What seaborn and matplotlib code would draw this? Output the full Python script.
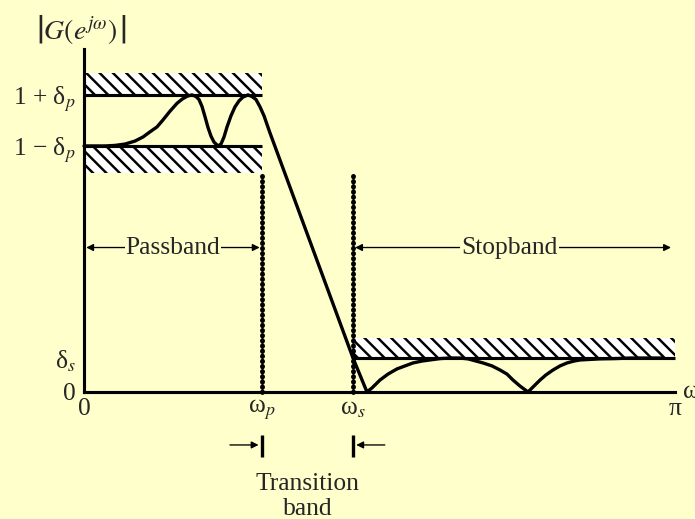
import numpy as np
import pandas as pd
import matplotlib
matplotlib.use("Agg")
import matplotlib.pyplot as plt
import seaborn as sns

# ---- specification values (frequencies in units of pi) ----
wp_frac = 0.301          # passband edge  omega_p / pi
ws_frac = 0.455          # stopband edge  omega_s / pi
delta_p = 0.094          # passband ripple
delta_s = 0.125          # stopband ripple

# magnitude response |G(e^jw)| sampled along the curve
omega_frac = [0.0000, 0.0186, 0.0355, 0.0525, 0.0694, 0.0863, 0.0998, 0.1117,
              0.1235, 0.1337, 0.1455, 0.1574, 0.1658, 0.1743, 0.1827, 0.1895,
              0.1946, 0.1997, 0.2047, 0.2098, 0.2149, 0.2200, 0.2267, 0.2318,
              0.2369, 0.2420, 0.2487, 0.2555, 0.2623, 0.2690, 0.2775, 0.2843,
              0.2910, 0.2978, 0.3046, 0.3147, 0.4552, 0.4788,
              0.4873, 0.5008, 0.5144, 0.5296, 0.5431, 0.5567, 0.5719, 0.5854,
              0.6024, 0.6193, 0.6362, 0.6497, 0.6633, 0.6751, 0.6904, 0.7039,
              0.7157, 0.7259, 0.7377, 0.7513, 0.7614, 0.7716, 0.7817, 0.7936,
              0.8054, 0.8173, 0.8291, 0.8393, 0.8562, 0.8731, 0.8985, 0.9239,
              0.9797]
magnitude = [0.906, 0.906, 0.906, 0.908, 0.913, 0.924, 0.939, 0.958,
             0.976, 1.002, 1.034, 1.063, 1.078, 1.089, 1.094, 1.088,
             1.077, 1.051, 1.014, 0.974, 0.942, 0.920, 0.906, 0.913,
             0.939, 0.976, 1.017, 1.050, 1.072, 1.086, 1.094, 1.088,
             1.077, 1.050, 1.017, 0.954, 0.125, 0.000,
             0.015, 0.044, 0.066, 0.085, 0.096, 0.107, 0.114, 0.118,
             0.123, 0.125, 0.125, 0.122, 0.114, 0.107, 0.096, 0.081,
             0.066, 0.044, 0.022, 0.000, 0.022, 0.044, 0.063, 0.081,
             0.096, 0.107, 0.114, 0.118, 0.120, 0.122, 0.123, 0.125,
             0.125]

y_tick_labels = ["0", "δ$_s$", "1 − δ$_p$", "1 + δ$_p$"]
x_tick_labels = ["0", "ω$_p$", "ω$_s$", "π"]
band_labels = ["Passband", "Stopband", "Transition\nband"]

# hatched tolerance-band thicknesses
hatch_upper = 0.081
hatch_lower = 0.100
hatch_stop = 0.074

BG = "#FFFFCC"
INK = "black"
LW = 3.0

sns.set_theme(style="ticks")
plt.rcParams["font.family"] = ["Liberation Serif", "DejaVu Serif"]
plt.rcParams["mathtext.fontset"] = "stix"
plt.rcParams["hatch.linewidth"] = 2.2
plt.rcParams["hatch.color"] = INK

wp = wp_frac * np.pi
ws = ws_frac * np.pi
PI = np.pi

fig = plt.figure(figsize=(695 / 80, 519 / 80), dpi=80, facecolor=BG)
ax = fig.add_axes([84 / 695, 127 / 519, 591 / 695, 343 / 519])
ax.set_facecolor(BG)
ax.set_xlim(0, PI)
ax.set_ylim(0, 1.263)

for side in ("top", "right"):
    ax.spines[side].set_visible(False)
for side in ("left", "bottom"):
    ax.spines[side].set_linewidth(2.8)
    ax.spines[side].set_color(INK)

# hatched forbidden regions
hatch_kw = dict(facecolor="white", edgecolor=INK, linewidth=0, hatch="\\\\")
ax.fill_between([0, wp], 1 + delta_p, 1 + delta_p + hatch_upper, **hatch_kw)
ax.fill_between([0, wp], 1 - delta_p - hatch_lower, 1 - delta_p, **hatch_kw)
ax.fill_between([ws, PI], delta_s, delta_s + hatch_stop, **hatch_kw)

# tolerance limits
ax.plot([0, wp], [1 + delta_p] * 2, color=INK, lw=2.8, solid_capstyle="butt")
ax.plot([0, wp], [1 - delta_p] * 2, color=INK, lw=2.8, solid_capstyle="butt")
ax.plot([ws, PI], [delta_s] * 2, color=INK, lw=2.8, solid_capstyle="butt")

# band-edge markers
dot_top = 1 - delta_p - hatch_lower
for edge in (wp, ws):
    ax.plot([edge, edge], [0, dot_top], color=INK, lw=4.4,
            ls=(0, (0.1, 0.95)), dash_capstyle="round", clip_on=False)

# magnitude response
curve = pd.DataFrame({"omega": np.array(omega_frac) * PI, "mag": magnitude})
sns.lineplot(data=curve, x="omega", y="mag", sort=False, estimator=None,
             color=INK, lw=LW, ax=ax)
for ln in ax.lines:
    ln.set_clip_on(False)
    ln.set_solid_joinstyle("round")
ax.set_xlabel("")
ax.set_ylabel("")

# ticks and labels
ax.set_xticks([0, wp, ws, PI], x_tick_labels, fontsize=23)
ax.tick_params(axis="x", which="major", length=0, pad=5)
ax.set_xticks([PI], minor=True)
ax.tick_params(axis="x", which="minor", length=12, width=2.8,
               direction="inout", color=INK)

ax.set_yticks([0, delta_s, 1 - delta_p, 1 + delta_p], y_tick_labels, fontsize=23)
ax.tick_params(axis="y", which="major", length=0, pad=7)
ax.set_yticks([delta_s], minor=True)
ax.tick_params(axis="y", which="minor", length=14, width=1.3,
               direction="inout", color=INK)

# band annotations
arrow_y = 0.532
arrow_kw = dict(arrowstyle="<|-|>", color=INK, lw=1.2, shrinkA=2, shrinkB=2,
                mutation_scale=13)
ax.annotate("", xy=(0, arrow_y), xytext=(wp, arrow_y), arrowprops=arrow_kw)
ax.annotate("", xy=(ws, arrow_y), xytext=(PI * 0.997, arrow_y),
            arrowprops=arrow_kw, annotation_clip=False)
box = dict(facecolor=BG, edgecolor="none", pad=1.0)
ax.text(wp / 2, arrow_y, band_labels[0], ha="center", va="center",
        fontsize=23, bbox=box)
ax.text(0.72 * PI, arrow_y, band_labels[1], ha="center", va="center",
        fontsize=23, bbox=box)

# transition band marker below the axis
ty = -0.195
one_kw = dict(arrowstyle="-|>", color=INK, lw=1.2, shrinkA=0, shrinkB=3,
              mutation_scale=13)
ax.annotate("", xy=(wp, ty), xytext=(0.247 * PI, ty), arrowprops=one_kw,
            annotation_clip=False)
ax.annotate("", xy=(ws, ty), xytext=(0.509 * PI, ty), arrowprops=one_kw,
            annotation_clip=False)
for edge in (wp, ws):
    ax.plot([edge, edge], [-0.158, -0.239], color=INK, lw=3.0,
            solid_capstyle="butt", clip_on=False)
ax.text((wp + ws) / 2, -0.385, band_labels[2], ha="center", va="center",
        fontsize=23, linespacing=1.2)

# axis titles
fig.text(81 / 695, 1 - 30 / 519, r"$\left|G(e^{j\omega})\,\right|$",
         ha="center", va="center", fontsize=25)
ax.text(1.0135 * PI, 0, "ω", ha="left", va="center", fontsize=23,
        clip_on=False)

fig.savefig("out.png", dpi=80, facecolor=BG)
